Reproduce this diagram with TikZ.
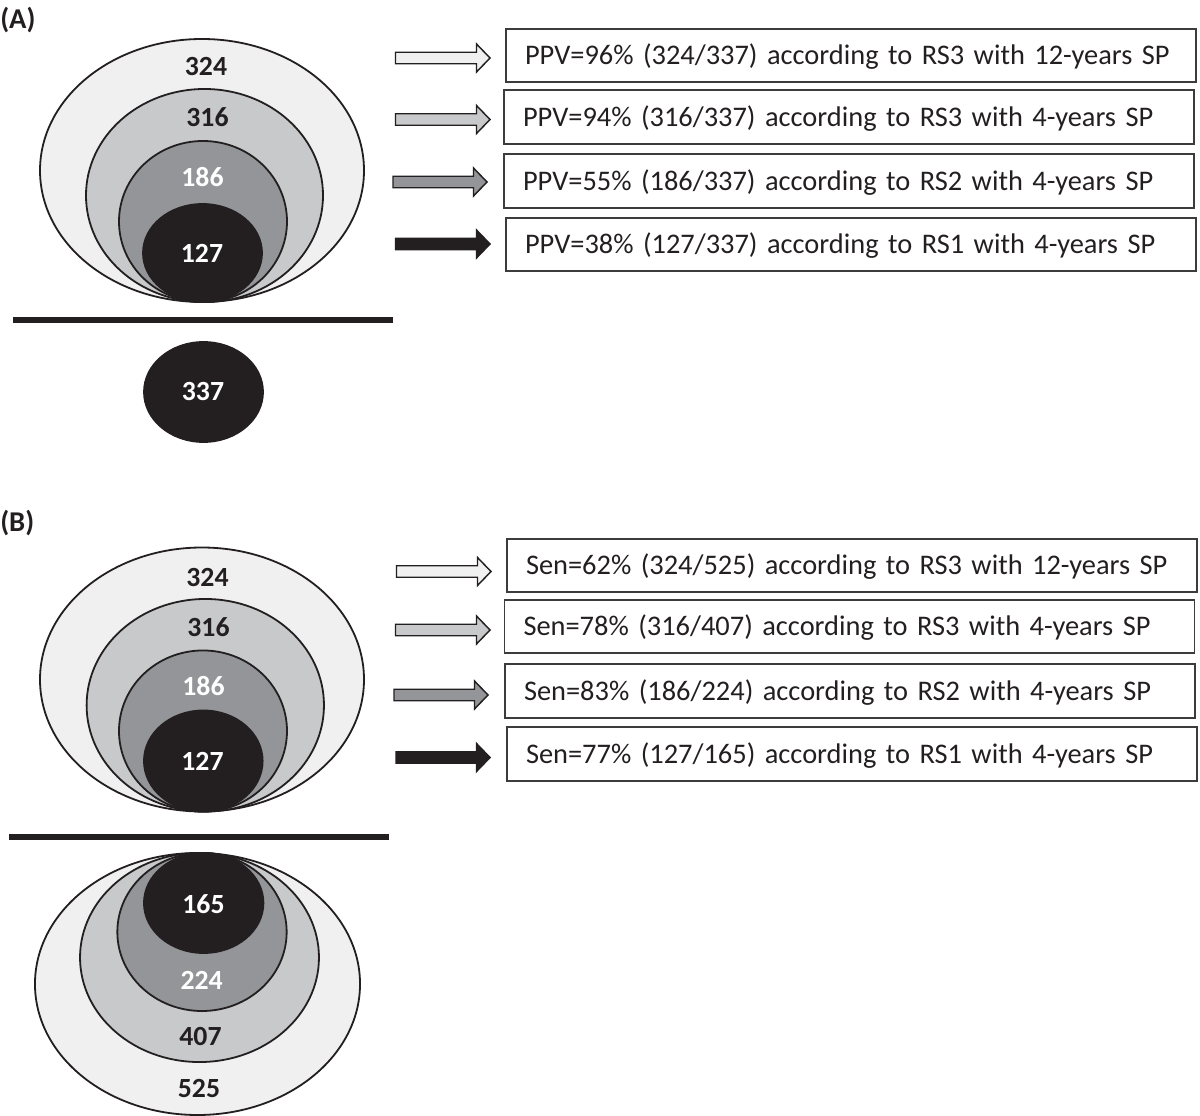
\documentclass[tikz,border=0pt]{standalone}
\usepackage{fontspec}
\setmainfont{Carlito}
\definecolor{ink}{HTML}{231F20}
\definecolor{gA}{HTML}{F0F0F0}
\definecolor{gB}{HTML}{C8C9CB}
\definecolor{gC}{HTML}{939598}
\definecolor{boxline}{HTML}{3C3C3C}
\tikzset{
  ring/.style={draw=ink, line width=1.35pt},
  rule/.style={draw=ink, line width=3.9pt},
  numdark/.style={font=\bfseries\fontsize{20.8}{24}\selectfont, text=ink, inner sep=0pt},
  numlight/.style={font=\bfseries\fontsize{20.8}{24}\selectfont, text=white, inner sep=0pt},
  panel/.style={font=\bfseries\fontsize{21.5}{24}\selectfont, text=ink, inner sep=0pt, anchor=west},
  infobox/.style={draw=boxline, line width=1.1pt, text=ink,
    font=\fontsize{21.3}{24}\selectfont, align=left,
    text width=489pt, inner xsep=14.25pt, inner ysep=0pt,
    text height=13.7pt, text depth=0pt,
    minimum width=517.5pt},
  blockarrow/.style={draw=ink, line width=1.1pt, line join=miter},
}
\newcommand\blockarr[4]{%
  \draw[blockarrow, fill=#4] (#1,{#2-5.75}) -- ({#3-13.5},{#2-5.75}) -- ({#3-13.5},{#2-14})
    -- (#3,#2) -- ({#3-13.5},{#2+14}) -- ({#3-13.5},{#2+5.75}) -- (#1,{#2+5.75}) -- cycle;}
\begin{document}
\begin{tikzpicture}[x=0.75pt,y=-0.75pt]
\useasboundingbox (0,0) rectangle (1200,1116);

% ---------------- Panel A ----------------
\node[panel] (labA) at (0,20) {(A)};
\draw[ring, fill=gA] (202,170.5) ellipse [x radius=121.5pt, y radius=98.625pt];
\draw[ring, fill=gB] (204.5,195.5) ellipse [x radius=88.875pt, y radius=79.875pt];
\draw[ring, fill=gC] (203,221.5) ellipse [x radius=63pt, y radius=60.375pt];
\draw[ring, fill=ink] (202.5,253) ellipse [x radius=44.625pt, y radius=36.75pt];
\node[numdark]  (a324) at (206,67)  {324};
\node[numdark]  (a316) at (207.5,117) {316};
\node[numlight] (a186) at (202.5,177) {186};
\node[numlight] (a127) at (202,253) {127};
\draw[rule] (13,320) -- (393,320);
\draw[ring, fill=ink] (203.5,392) ellipse [x radius=44.625pt, y radius=37.5pt];
\node[numlight] (a337) at (203,392) {337};

\blockarr{395.5}{58}{490}{gA}
\blockarr{395.5}{119.5}{490}{gB}
\blockarr{393}{182}{487}{gC}
\blockarr{395.5}{244}{490}{ink}

\node[infobox, minimum height=39.75pt] (pa1) at (851,55.5) {PPV=96\% (324/337) according to RS3 with 12-years SP};
\node[infobox, minimum height=40.5pt]  (pa2) at (849,117)  {PPV=94\% (316/337) according to RS3 with 4-years SP};
\node[infobox, minimum height=40.5pt]  (pa3) at (849,181)  {PPV=55\% (186/337) according to RS2 with 4-years SP};
\node[infobox, minimum height=39.75pt] (pa4) at (851,244.5) {PPV=38\% (127/337) according to RS1 with 4-years SP};

% ---------------- Panel B ----------------
\node[panel] (labB) at (0,523) {(B)};
\draw[ring, fill=gA] (202,679.5) ellipse [x radius=121.5pt, y radius=99pt];
\draw[ring, fill=gB] (205.3,705.25) ellipse [x radius=89pt, y radius=79.7pt];
\draw[ring, fill=gC] (203,731) ellipse [x radius=63pt, y radius=60.4pt];
\draw[ring, fill=ink] (203.3,761) ellipse [x radius=44.5pt, y radius=37.9pt];
\node[numdark]  (b324) at (207.5,577) {324};
\node[numdark]  (b316) at (208.5,627) {316};
\node[numlight] (b186) at (203.5,686.5) {186};
\node[numlight] (b127) at (202.5,761.5) {127};
\draw[rule] (9,837) -- (389,837);
\draw[ring, fill=gA] (197.5,984) ellipse [x radius=121.9pt, y radius=98.25pt];
\draw[ring, fill=gB] (199.5,957.5) ellipse [x radius=89.6pt, y radius=78.4pt];
\draw[ring, fill=gC] (202,932) ellipse [x radius=63.5pt, y radius=59.25pt];
\draw[ring, fill=ink] (203.7,903) ellipse [x radius=44.8pt, y radius=37.5pt];
\node[numlight] (b165) at (203.5,904) {165};
\node[numlight] (b224) at (201.7,980) {224};
\node[numdark]  (b407) at (200.5,1036) {407};
\node[numdark]  (b525) at (199,1088) {525};

\blockarr{396.5}{571.5}{491}{gA}
\blockarr{395.5}{630}{490}{gB}
\blockarr{394}{695}{488}{gC}
\blockarr{396}{757.5}{490}{ink}

\node[infobox, minimum height=39.75pt] (sb1) at (852,565.5) {Sen=62\% (324/525) according to RS3 with 12-years SP};
\node[infobox, minimum height=39.75pt] (sb2) at (849.5,626.5) {Sen=78\% (316/407) according to RS3 with 4-years SP};
\node[infobox, minimum height=40.5pt]  (sb3) at (850,691) {Sen=83\% (186/224) according to RS2 with 4-years SP};
\node[infobox, minimum height=40.5pt]  (sb4) at (852,754) {Sen=77\% (127/165) according to RS1 with 4-years SP};
\end{tikzpicture}
\end{document}
